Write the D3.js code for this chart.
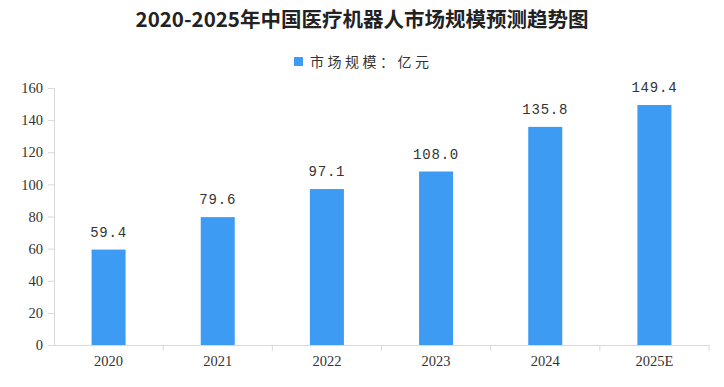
<!DOCTYPE html>
<html>
<head>
<meta charset="utf-8">
<script src="https://cdn.jsdelivr.net/npm/d3@7"></script>
<style>
  body { margin: 0; background: #fff; }
  svg { display: block; font-family: "Noto Sans CJK SC", "DejaVu Sans", sans-serif; }
</style>
</head>
<body>
<div id="chart"></div>
<script>
// data
var years = ['2020', '2021', '2022', '2023', '2024', '2025E'];
var marketSize = [59.4, 79.6, 97.1, 108.0, 135.8, 149.4];
var yTicks = [0, 20, 40, 60, 80, 100, 120, 140, 160];

const W = 724, H = 387,
    M = { left: 54, right: 709, top: 88, bottom: 345 },
    barColor = '#3d9bf3',
    axisColor = '#d9d9d9';

var svg = d3.select('#chart').append('svg')
    .attr('width', W)
    .attr('height', H);

var x = d3.scaleBand().domain(years).range([M.left, M.right]);
var y = d3.scaleLinear().domain([0, 160]).range([M.bottom, M.top]);

// title
svg.append('text')
    .attr('x', 362).attr('y', 27)
    .attr('text-anchor', 'middle')
    .style('font-size', '20.5px')
    .style('font-weight', 'bold')
    .attr('fill', '#222')
    .text('2020-2025年中国医疗机器人市场规模预测趋势图');

// legend
svg.append('rect')
    .attr('x', 294).attr('y', 57)
    .attr('width', 9).attr('height', 9)
    .attr('fill', barColor);
svg.append('text')
    .attr('x', 310).attr('y', 67)
    .style('font-size', '14px')
    .style('letter-spacing', '3.5px')
    .attr('fill', '#333')
    .text('市场规模：亿元');

// y axis
var yAxis = svg.append('g')
    .attr('transform', 'translate(' + M.left + ',0)')
    .call(d3.axisLeft(y).tickValues(yTicks).tickSize(6).tickPadding(5));
yAxis.select('.domain').attr('stroke', axisColor);
yAxis.selectAll('.tick line').attr('stroke', axisColor);
yAxis.selectAll('.tick text')
    .style('font-size', '14.5px')
    .style('font-family', '"Liberation Serif", serif')
    .attr('fill', '#333');

// x axis
var xAxis = svg.append('g')
    .attr('transform', 'translate(0,' + M.bottom + ')')
    .call(d3.axisBottom(x).tickSize(0).tickPadding(11));
xAxis.select('.domain').attr('stroke', axisColor);
xAxis.selectAll('.tick text')
    .style('font-size', '14.5px')
    .style('font-family', '"Liberation Serif", serif')
    .attr('fill', '#333');
// category separators
xAxis.selectAll('.sep')
    .data(years)
    .enter().append('line')
    .attr('class', 'sep')
    .attr('x1', d => x(d) + x.bandwidth())
    .attr('x2', d => x(d) + x.bandwidth())
    .attr('y1', 0).attr('y2', 6)
    .attr('stroke', axisColor);

// bars
var barW = 34;
svg.selectAll('.bar')
    .data(marketSize)
    .enter().append('rect')
    .attr('class', 'bar')
    .attr('x', (d, i) => x(years[i]) + x.bandwidth() / 2 - barW / 2)
    .attr('y', d => y(d))
    .attr('width', barW)
    .attr('height', d => y(0) - y(d))
    .attr('fill', barColor);

// value labels
svg.selectAll('.val')
    .data(marketSize)
    .enter().append('text')
    .attr('class', 'val')
    .attr('x', (d, i) => x(years[i]) + x.bandwidth() / 2)
    .attr('y', d => y(d) - 13)
    .attr('text-anchor', 'middle')
    .style('font-size', '14px')
    .style('letter-spacing', '0.8px')
    .style('font-family', '"Liberation Mono", monospace')
    .attr('fill', '#333')
    .text(d => d.toFixed(1));
</script>
</body>
</html>
